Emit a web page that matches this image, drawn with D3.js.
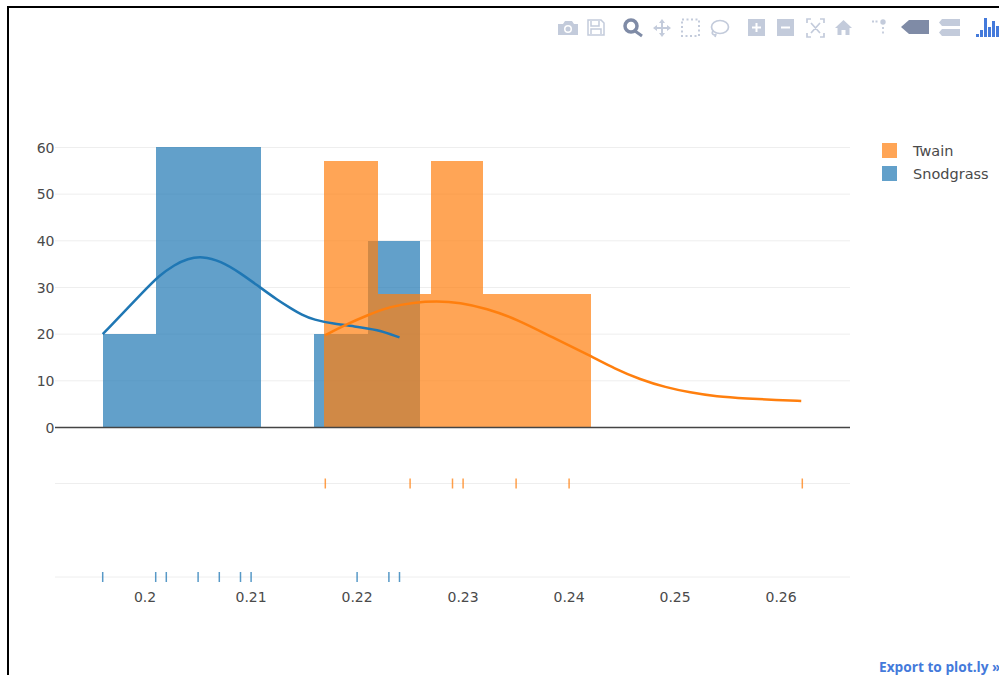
<!DOCTYPE html>
<html>
<head>
<meta charset="utf-8">
<script src="https://cdn.jsdelivr.net/npm/d3@7"></script>
<style>
  html, body { margin: 0; padding: 0; background: #fff; overflow: hidden; }
  text { font-family: "DejaVu Sans", sans-serif; }
</style>
</head>
<body>
<svg id="chart" width="999" height="675"></svg>
<script>
// Data
var names = ["Snodgrass", "Twain"];
var legendNames = ["Twain", "Snodgrass"];

var snodBins = [0.196, 0.201, 0.2109, 0.2159, 0.221, 0.2259];
var snodHeights = [20, 60, 0, 20, 40];
var twainBins = [0.2169, 0.222, 0.227, 0.2319, 0.2421];
var twainHeights = [57.14, 28.57, 57.14, 28.57];

var snodCurveX = [0.196, 0.2, 0.2013, 0.2028, 0.204, 0.2054, 0.2071, 0.209, 0.2108, 0.2125, 0.2137, 0.2148, 0.2159, 0.2178, 0.2197, 0.2219, 0.224];
var snodCurveY = [20, 29.5, 32.5, 34.9, 36.2, 36.7, 35.7, 33.1, 30.1, 27.3, 25.6, 24.1, 23.1, 22.2, 21.7, 21, 19.3];
var twainCurveX = [0.217, 0.219, 0.2209, 0.2231, 0.2253, 0.2275, 0.2297, 0.2322, 0.2351, 0.2385, 0.242, 0.2443, 0.2467, 0.2491, 0.2514, 0.2539, 0.2568, 0.2596, 0.2619];
var twainCurveY = [19.8, 22.1, 24, 25.9, 26.8, 27.1, 26.8, 25.5, 23.2, 19.2, 15.4, 12.6, 10.3, 8.6, 7.5, 6.6, 6.2, 5.9, 5.7];

var snodRug = [0.196, 0.201, 0.202, 0.205, 0.207, 0.209, 0.21, 0.22, 0.223, 0.224];
var twainRug = [0.217, 0.225, 0.229, 0.23, 0.235, 0.24, 0.262];

var xTicks = [0.2, 0.21, 0.22, 0.23, 0.24, 0.25, 0.26];
var yTicks = [0, 10, 20, 30, 40, 50, 60];

var blue = "#1f77b4", orange = "#ff7f0e";
var textColor = "#4a4a4a";

var svg = d3.select("#chart");

var x = d3.scaleLinear().domain([0.1915, 0.2665]).range([55, 850]);
var y = d3.scaleLinear().domain([0, 60]).range([427.5, 147.5]);
// rug rows are categories on the lower axis
var rugY = d3.scalePoint().domain(names.slice().reverse()).range([483.5, 577]);

// Gridlines
svg.append("g").selectAll("line").data(yTicks.slice(1)).join("line")
    .attr("x1", 55).attr("x2", 850)
    .attr("y1", d => y(d)).attr("y2", d => y(d))
    .attr("stroke", "#eee").attr("stroke-width", 1);

svg.append("g").selectAll("line").data(names).join("line")
    .attr("x1", 55).attr("x2", 850)
    .attr("y1", d => rugY(d)).attr("y2", d => rugY(d))
    .attr("stroke", "#eee").attr("stroke-width", 1);

// Histogram bars, blue below orange. Edges are rounded so neighbours leave no seam
function drawBars(bins, heights, color) {
    var rows = heights.map((h, i) => ({x0: bins[i], x1: bins[i + 1], h: h})).filter(d => d.h > 0);
    var top = d => Math.round(y(d.h) - 0.1);
    svg.append("g").attr("shape-rendering", "crispEdges")
        .selectAll("rect").data(rows).join("rect")
        .attr("x", d => Math.round(x(d.x0)))
        .attr("width", d => Math.round(x(d.x1)) - Math.round(x(d.x0)))
        .attr("y", top)
        .attr("height", d => Math.round(y(0)) - top(d))
        .attr("fill", color)
        .attr("fill-opacity", 0.7);
}
drawBars(snodBins, snodHeights, blue);
drawBars(twainBins, twainHeights, orange);

// Zero line
svg.append("line")
    .attr("x1", 55).attr("x2", 850)
    .attr("y1", y(0)).attr("y2", y(0))
    .attr("stroke", "#444").attr("stroke-width", 1.5);

// KDE curves
var line = d3.line().x(d => x(d[0])).y(d => y(d[1])).curve(d3.curveBasis);
svg.append("path")
    .attr("d", line(d3.zip(snodCurveX, snodCurveY)))
    .attr("fill", "none").attr("stroke", blue).attr("stroke-width", 2.5);
svg.append("path")
    .attr("d", line(d3.zip(twainCurveX, twainCurveY)))
    .attr("fill", "none").attr("stroke", orange).attr("stroke-width", 2.5);

// Rug ticks
function drawRug(values, name, color) {
    svg.append("g").selectAll("line").data(values).join("line")
        .attr("x1", d => x(d)).attr("x2", d => x(d))
        .attr("y1", rugY(name) - 5).attr("y2", rugY(name) + 5)
        .attr("stroke", color).attr("stroke-opacity", 0.75).attr("stroke-width", 1.5);
}
drawRug(snodRug, "Snodgrass", blue);
drawRug(twainRug, "Twain", orange);

// Tick labels
svg.append("g").selectAll("text").data(yTicks).join("text")
    .attr("x", 54.5).attr("y", d => y(d) + 5)
    .attr("text-anchor", "end")
    .attr("font-size", 14).attr("fill", textColor)
    .text(d => d);
svg.append("g").selectAll("text").data(xTicks).join("text")
    .attr("x", d => x(d)).attr("y", 602)
    .attr("text-anchor", "middle")
    .attr("font-size", 14).attr("fill", textColor)
    .text(d => d);

// Legend
var legendColor = {Twain: orange, Snodgrass: blue};
var legend = svg.append("g").selectAll("g").data(legendNames).join("g")
    .attr("transform", (d, i) => "translate(882," + (143 + i * 23) + ")");
legend.append("rect")
    .attr("width", 15).attr("height", 15)
    .attr("fill", d => legendColor[d]).attr("fill-opacity", 0.7);
legend.append("text")
    .attr("x", 31).attr("y", 12.5)
    .attr("font-size", 14.5).attr("fill", textColor)
    .text(d => d);

// Export link
svg.append("text")
    .attr("x", 879).attr("y", 672)
    .style("font-family", "'Open Sans', sans-serif")
    .attr("font-size", 13.7).attr("font-weight", 700).attr("fill", "#447adb")
    .text("Export to plot.ly »");

// Mode bar icons
var bar = svg.append("g").attr("fill", "#c3cbdb");
var light = "#c3cbdb", dark = "#7f8ba6";

// camera
bar.append("path").attr("d", "M558 24h5l2-3h7l2 3h4v11h-20z");
bar.append("circle").attr("cx", 568).attr("cy", 29).attr("r", 4).attr("fill", "#fff");
bar.append("circle").attr("cx", 568).attr("cy", 29).attr("r", 2.5).attr("fill", light);
// floppy
bar.append("path").attr("d", "M588 20h13l3 3v12h-16zM591 21v5h8v-5M591 34v-5h10v5").attr("fill", "none").attr("stroke", light).attr("stroke-width", 1.5);
// zoom, active
bar.append("circle").attr("cx", 631).attr("cy", 26).attr("r", 6).attr("fill", "none").attr("stroke", dark).attr("stroke-width", 3.5);
bar.append("line").attr("x1", 635).attr("y1", 31).attr("x2", 642).attr("y2", 36).attr("stroke", dark).attr("stroke-width", 3);
// pan
bar.append("path").attr("d", "M662 19l3 4h-2v4h4v-2l4 3-4 3v-2h-4v4h2l-3 4-3-4h2v-4h-4v2l-4-3 4-3v2h4v-4h-2z");
// box select
bar.append("rect").attr("x", 682).attr("y", 19.5).attr("width", 17).attr("height", 16.5)
    .attr("fill", "none").attr("stroke", light).attr("stroke-width", 2).attr("stroke-dasharray", "2 2.5");
// lasso
bar.append("ellipse").attr("cx", 720).attr("cy", 27).attr("rx", 8.5).attr("ry", 6.5).attr("fill", "none").attr("stroke", light).attr("stroke-width", 1.7);
bar.append("path").attr("d", "M713 31c-2 3 1 5 3 3l-1 3").attr("fill", "none").attr("stroke", light).attr("stroke-width", 1.7);
// zoom in, zoom out
bar.append("rect").attr("x", 748).attr("y", 19).attr("width", 17).attr("height", 17);
bar.append("path").attr("d", "M752 26.500h3.500v-3.500h2v3.500h3.500v2h-3.500v3.500h-2v-3.500h-3.500z").attr("fill", "#fff");
bar.append("rect").attr("x", 777).attr("y", 19).attr("width", 17).attr("height", 17);
bar.append("rect").attr("x", 781).attr("y", 26.5).attr("width", 9).attr("height", 2).attr("fill", "#fff");
// autoscale
bar.append("path").attr("d", "M807 23v-4h4M820 19h4v4M824 33v4h-4M811 37h-4v-4M811 23l9 10M820 23l-9 10").attr("fill", "none").attr("stroke", light).attr("stroke-width", 1.7);
// home
bar.append("path").attr("d", "M835 28l8.500-8 8.500 8h-2.500v7h-4v-5h-4v5h-4v-7z");
// spikes
bar.append("circle").attr("cx", 883).attr("cy", 22).attr("r", 2.7);
bar.append("path").attr("d", "M872 21.500h2M875.500 21.500h2M883 27v2M883 31.500v2").attr("stroke", light).attr("stroke-width", 1.8);
// hover closest, active
bar.append("path").attr("d", "M901 27l8-7h20v14h-20z").attr("fill", dark);
// hover compare
bar.append("path").attr("d", "M942 19h18v7h-18l-3-3.500zM942 29h18v7h-18l-3-3.500z");
// logo bars, heights
var logoX = [976, 980, 984, 988, 992, 996];
var logoTop = [34, 30, 18, 27, 21, 26];
svg.append("g").selectAll("rect").data(logoX).join("rect")
    .attr("x", d => d).attr("width", 3)
    .attr("y", (d, i) => logoTop[i]).attr("height", (d, i) => 37 - logoTop[i])
    .attr("fill", "#447adb");

// Screenshot frame
svg.append("line").attr("x1", 7).attr("x2", 999).attr("y1", 7).attr("y2", 7).attr("stroke", "#000").attr("stroke-width", 2);
svg.append("line").attr("x1", 8).attr("x2", 8).attr("y1", 6).attr("y2", 675).attr("stroke", "#000").attr("stroke-width", 2);
</script>
</body>
</html>
